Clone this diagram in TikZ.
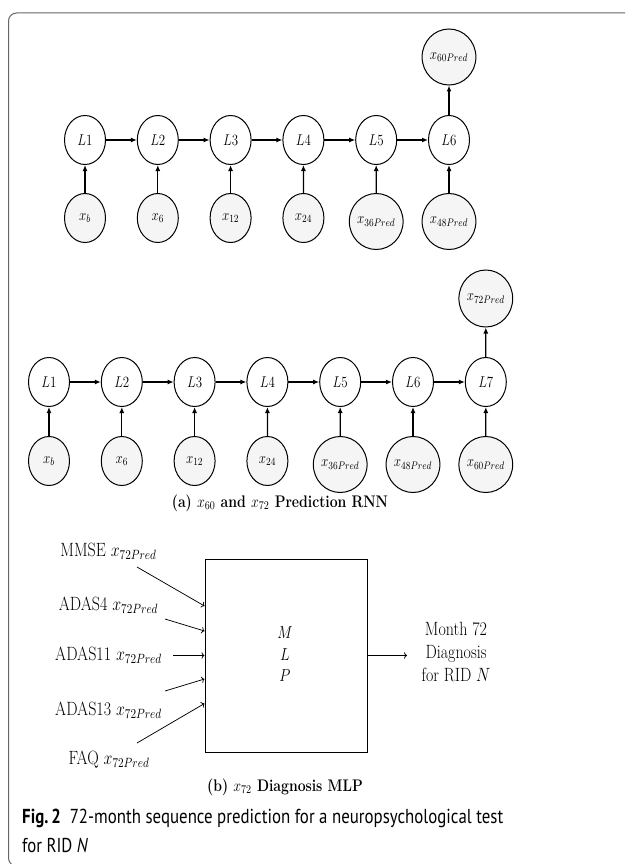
\RequirePackage{fix-cm}
\documentclass[tikz,border=0pt]{standalone}
\usepackage{fontspec}
\newfontfamily\capfont{PT Sans}
\usetikzlibrary{shapes.geometric,arrows.meta}
% vertically stretched text, to suit the taller cells
\newcommand{\vs}[1]{\scalebox{1}[1.2]{#1}}
\begin{document}
\begin{tikzpicture}[x=1pt,y=-1pt,
  cell/.style={ellipse, draw, line width=1pt, inner sep=0pt,
    minimum width=41pt, minimum height=49pt, font=\fontsize{13}{15}\selectfont},
  innode/.style={cell, fill=black!4},
  prednode/.style={innode, minimum width=47pt, minimum height=56pt},
  flow/.style={line width=1.3pt, -{Latex[length=6pt,width=5pt]}},
  feed/.style={line width=0.75pt, -{To[length=3pt,width=6.5pt]}},
  lbl/.style={font=\fontsize{16}{19}\selectfont, inner sep=0pt},
  subcap/.style={font=\fontsize{14}{16}\selectfont\bfseries, inner sep=0pt},
  capline/.style={anchor=west, inner sep=0pt, font=\capfont\fontsize{15}{18}\selectfont},
]
\useasboundingbox (0,0) rectangle (625,864);
\begin{scope}
  \clip (0,0) rectangle (625,864);
  \draw[black!60, line width=1pt, rounded corners=8pt] (8.5,13) rectangle (650,866);
\end{scope}

% ---- (a) upper chain: six steps predicting x60 ----
\foreach \i in {1,...,6}
  \node[cell] (tL\i) at ({85+72.8*(\i-1)},140) {\vs{$L\i$}};
\node[innode, anchor=north] (tx1) at (85,193) {\vs{$x_b$}};
\node[innode, anchor=north] (tx2) at (157.8,193) {\vs{$x_6$}};
\node[innode, anchor=north] (tx3) at (230.6,193) {\vs{$x_{12}$}};
\node[innode, anchor=north] (tx4) at (303.4,193) {\vs{$x_{24}$}};
\node[prednode, anchor=north] (tx5) at (376.2,193) {\vs{$x_{36Pred}$}};
\node[prednode, anchor=north] (tx6) at (449,193) {\vs{$x_{48Pred}$}};
\node[prednode, minimum width=45pt] (tout) at (449,57) {\vs{$x_{60Pred}$}};
\foreach \i in {1,...,6} \draw[flow] (tx\i) -- (tL\i);
\foreach \i/\j in {1/2,2/3,3/4,4/5,5/6} \draw[flow] (tL\i) -- (tL\j);
\draw[flow] (tL6) -- (tout);

% ---- (a) lower chain: seven steps predicting x72 ----
\foreach \i in {1,...,7}
  \node[cell] (bL\i) at ({49+72.8*(\i-1)},382) {\vs{$L\i$}};
\node[innode, anchor=north] (bx1) at (49,436) {\vs{$x_b$}};
\node[innode, anchor=north] (bx2) at (121.8,436) {\vs{$x_6$}};
\node[innode, anchor=north] (bx3) at (194.6,436) {\vs{$x_{12}$}};
\node[innode, anchor=north] (bx4) at (267.4,436) {\vs{$x_{24}$}};
\node[prednode, anchor=north] (bx5) at (340.2,436) {\vs{$x_{36Pred}$}};
\node[prednode, anchor=north] (bx6) at (413,436) {\vs{$x_{48Pred}$}};
\node[prednode, anchor=north] (bx7) at (485.8,436) {\vs{$x_{60Pred}$}};
\node[prednode, minimum width=46pt, minimum height=57pt] (bout) at (485.8,298.5) {\vs{$x_{72Pred}$}};
\foreach \i in {1,...,7} \draw[flow] (bx\i) -- (bL\i);
\foreach \i/\j in {1/2,2/3,3/4,4/5,5/6,6/7} \draw[flow] (bL\i) -- (bL\j);
\draw[flow] (bL7) -- (bout);

\node[subcap] (capa) at (280,503) {\vs{\textbf{(a)} $x_{60}$ \textbf{and} $x_{72}$ \textbf{Prediction RNN}}};

% ---- (b) diagnosis MLP ----
\node[draw, line width=1pt, inner sep=0pt, minimum width=162pt, minimum height=193pt] (mlp) at (286,655.5) {};
\node[font=\fontsize{14.5}{17}\selectfont] (mM) at (285,633) {\vs{$M$}};
\node[font=\fontsize{14.5}{17}\selectfont] (mL) at (285,655) {\vs{$L$}};
\node[font=\fontsize{14.5}{17}\selectfont] (mP) at (285,676) {\vs{$P$}};

\node[lbl] (in1) at (108.5,551) {\vs{MMSE $x_{72Pred}$}};
\node[lbl] (in2) at (108.5,605) {\vs{ADAS4 $x_{72Pred}$}};
\node[lbl] (in3) at (108.5,655) {\vs{ADAS11 $x_{72Pred}$}};
\node[lbl] (in4) at (108.5,710) {\vs{ADAS13 $x_{72Pred}$}};
\node[lbl] (in5) at (109,760) {\vs{FAQ $x_{72Pred}$}};

\coordinate (s1) at (137,567);
\coordinate (s2) at (165,619);
\coordinate (s3) at (173,655.5);
\coordinate (s4) at (165,691);
\coordinate (s5) at (137,743);
\coordinate (e1) at ([yshift=49.5pt]mlp.west);
\coordinate (e2) at ([yshift=24.5pt]mlp.west);
\coordinate (e3) at (mlp.west);
\coordinate (e4) at ([yshift=-23.5pt]mlp.west);
\coordinate (e5) at ([yshift=-48pt]mlp.west);
\foreach \i in {1,...,5} \draw[feed] (s\i) -- (e\i);

\node[lbl] (out) at (456,654) {\vs{\begin{tabular}{@{}c@{}}Month 72\\Diagnosis\\for RID $N$\end{tabular}}};
\coordinate (oend) at (407,655.5);
\draw[feed] (mlp.east) -- (oend);

\node[subcap] (capb) at (285,787) {\vs{\textbf{(b)} $x_{72}$ \textbf{Diagnosis MLP}}};

% ---- figure caption: first line runs from x=22 to x=503 ----
\node[capline] (fig1) at (22,818)
  {\vs{\resizebox{481pt}{!}{\textbf{Fig.\,2}\hspace{8pt}72-month sequence prediction for a neuropsychological test}}};
\node[capline] (fig2) at (22,845) {\scalebox{1.12}[1.34]{for RID \textit{N}}};
\end{tikzpicture}
\end{document}
